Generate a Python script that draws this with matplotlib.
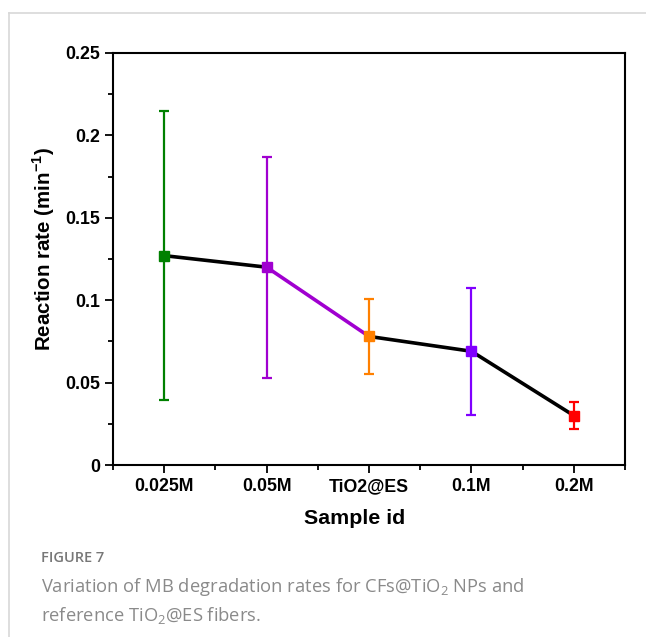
import numpy as np
import matplotlib.pyplot as plt
from matplotlib.lines import Line2D
from matplotlib.ticker import MultipleLocator

plt.rcParams['font.family'] = ['Liberation Sans', 'DejaVu Sans']
plt.rcParams['mathtext.fontset'] = 'custom'
plt.rcParams['mathtext.rm'] = 'Open Sans'
plt.rcParams['mathtext.bf'] = 'Liberation Sans:bold'

# data
samples = ["0.025M", "0.05M", "TiO2@ES", "0.1M", "0.2M"]
rate = [0.127, 0.120, 0.078, 0.069, 0.030]
err = [0.0875, 0.067, 0.0225, 0.0385, 0.008]
colors = ["#008000", "#A000D0", "#FF8000", "#8000FF", "#FF0000"]
# colour of the segment leaving each point
seg_colors = ["black", "#A000D0", "black", "black"]

x = np.arange(1, len(samples) + 1)

fig = plt.figure(figsize=(6.46, 6.37), dpi=100)
ax = fig.add_axes([0.175, 0.27, 0.7925, 0.647])

# connecting lines
for i in range(len(x) - 1):
    ax.plot(x[i:i + 2], rate[i:i + 2], color=seg_colors[i], lw=2.6, zorder=2,
            solid_capstyle='butt')

# error bars + square markers
for xi, yi, ei, c in zip(x, rate, err, colors):
    ax.errorbar(xi, yi, yerr=ei, fmt='s', color=c, ms=6.8, elinewidth=1.6,
                capsize=3.4, capthick=1.6, zorder=3)

ax.set_xlim(0.5, 5.5)
ax.set_ylim(0, 0.25)
ax.set_xticks(x)
ax.set_xticklabels(samples)
ax.xaxis.set_minor_locator(MultipleLocator(0.5))
ax.set_yticks([0, 0.05, 0.1, 0.15, 0.2, 0.25])
ax.set_yticklabels(["0", "0.05", "0.1", "0.15", "0.2", "0.25"])
ax.yaxis.set_minor_locator(MultipleLocator(0.025))
ax.tick_params(which='major', direction='out', length=6, width=1.3,
               labelsize=12.8)
ax.tick_params(which='minor', direction='out', length=3.5, width=1.3)
for lab in ax.get_xticklabels() + ax.get_yticklabels():
    lab.set_fontweight('bold')
for sp in ax.spines.values():
    sp.set_linewidth(1.5)

ax.set_xlabel("Sample id", fontsize=15.4, fontweight='bold')
ax.set_ylabel(r"Reaction rate (min$^{\mathbf{-1}}$)", fontsize=14.8,
              fontweight='bold')
ax.xaxis.set_label_coords(0.471, -0.107)
ax.yaxis.set_label_coords(-0.109, 0.524)

# card border
fig.add_artist(Line2D([9 / 646, 1], [1 - 13 / 637, 1 - 13 / 637],
                      color='#d8d8d8', lw=1.2))
fig.add_artist(Line2D([9 / 646, 9 / 646], [0, 1 - 13 / 637],
                      color='#d8d8d8', lw=1.2))

# caption
fig.text(41 / 646, 1 - 558 / 637, "FIGURE 7", fontsize=10.5, color='#777777',
         family='Open Sans', fontweight='semibold', va='center')
fig.text(41 / 646, 1 - 587 / 637,
         r"Variation of MB degradation rates for CFs@TiO$_{\mathrm{2}}$ NPs and",
         fontsize=13.2, color='#8a8a8a', family='Open Sans', va='center')
fig.text(41 / 646, 1 - 615 / 637,
         r"reference TiO$_{\mathrm{2}}$@ES fibers.",
         fontsize=13.2, color='#8a8a8a', family='Open Sans', va='center')

fig.savefig("out.png", dpi=100)
